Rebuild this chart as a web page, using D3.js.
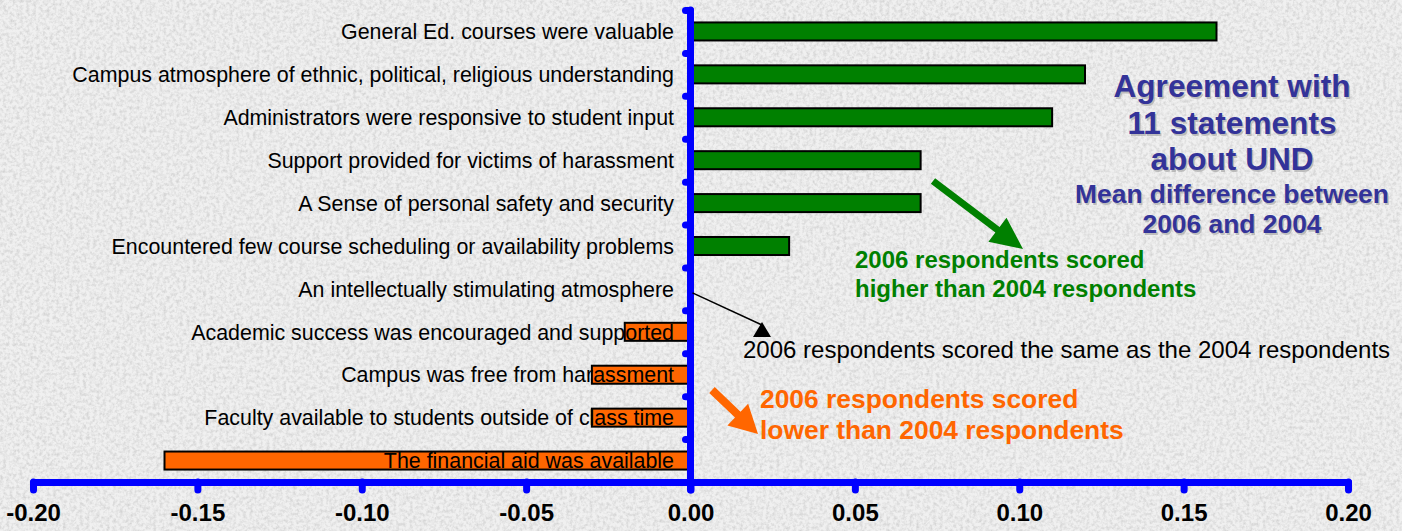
<!DOCTYPE html>
<html>
<head>
<meta charset="utf-8">
<script src="https://cdn.jsdelivr.net/npm/d3@7/dist/d3.min.js"></script>
<style>
  html, body { margin: 0; padding: 0; background: #e8e8e8; }
  svg { display: block; font-family: "Liberation Sans", Arial, sans-serif; }
</style>
</head>
<body>
<div id="chartid"></div>
<script>
/***** data *****/
var statements = [
  "General Ed. courses were valuable",
  "Campus atmosphere of ethnic, political, religious understanding",
  "Administrators were responsive to student input",
  "Support provided for victims of harassment",
  "A Sense of personal safety and security",
  "Encountered few course scheduling or availability problems",
  "An intellectually stimulating atmosphere",
  "Academic success was encouraged and supported",
  "Campus was free from harassment",
  "Faculty available to students outside of class time",
  "The financial aid was available"
];
var meanDiff = [0.16, 0.12, 0.11, 0.07, 0.07, 0.03, 0.00, -0.02, -0.03, -0.03, -0.16];
var xTicks = [-0.20, -0.15, -0.10, -0.05, 0.00, 0.05, 0.10, 0.15, 0.20];
var titleLines = ["Agreement with", "11 statements", "about UND"];
var subtitleLines = ["Mean difference between", "2006 and 2004"];
var higherLines = ["2006 respondents scored", "higher than 2004 respondents"];
var lowerLines = ["2006 respondents scored", "lower than 2004 respondents"];
var sameText = "2006 respondents scored the same as the 2004 respondents";

/***** chart parameters *****/
var width = 1402;
var height = 531;
var blue = "#0000ff";
var green = "#008000";
var orange = "#ff6600";
var navy = "#333399";

var svg = d3.select("div#chartid")
  .append("svg")
  .attr("width", width)
  .attr("height", height)
;

//mottled paper background
var defs = svg.append("defs");
var paper = defs.append("filter")
  .attr("id", "paper")
  .attr("x", 0).attr("y", 0).attr("width", "100%").attr("height", "100%");
paper.append("feTurbulence")
  .attr("type", "fractalNoise")
  .attr("baseFrequency", 0.3)
  .attr("numOctaves", 4)
  .attr("seed", 4)
  .attr("result", "noise");
paper.append("feColorMatrix")
  .attr("in", "noise")
  .attr("type", "matrix")
  .attr("values", "0 0 0 0 0.62  0 0 0 0 0.62  0 0 0 0 0.62  0 0 0 -2.2 1.35");

svg.append("rect").attr("width", width).attr("height", height).attr("fill", "#f0f0f0");
svg.append("rect").attr("width", width).attr("height", height).attr("filter", "url(#paper)").attr("opacity", 0.8);

//scales
var x = d3.scaleLinear()
  .domain([-0.2, 0.2])
  .range([33, 1348])
;
var y = d3.scaleBand()
  .domain(statements)
  .range([10, 482])
  .paddingInner(0.58)
  .paddingOuter(0.29)
;
//tick positions sit on the band edges
var yEdges = d3.scaleLinear()
  .domain([0, statements.length])
  .range([10, 482])
;

//bars
svg.append("g")
  .selectAll("rect")
  .data(meanDiff)
  .join("rect")
  .attr("x", function(d) { return x(Math.min(0, d)); })
  .attr("y", function(d, i) { return y(statements[i]); })
  .attr("width", function(d) { return Math.abs(x(d) - x(0)); })
  .attr("height", y.bandwidth())
  .attr("fill", function(d) { return d < 0 ? orange : green; })
  .attr("stroke", function(d) { return d === 0 ? "none" : "#000"; })
  .attr("stroke-width", 2)
;

//category labels (drawn on top of the bars)
svg.append("g")
  .selectAll("text")
  .data(statements)
  .join("text")
  .attr("x", 674)
  .attr("y", function(d) { return y(d) + y.bandwidth() / 2; })
  .attr("dy", "0.36em")
  .attr("text-anchor", "end")
  .attr("font-size", 21.4)
  .attr("fill", "#000")
  .text(function(d) { return d; })
;

//axes
var xAxis = d3.axisBottom(x)
  .tickValues(xTicks)
  .tickFormat(function(d) { return d3.format(".2f")(d).replace("\u2212", "-"); })
  .tickSizeInner(8)
  .tickSizeOuter(0)
  .tickPadding(14)
;
var yAxis = d3.axisLeft(yEdges)
  .tickValues(d3.range(0, statements.length + 1))
  .tickFormat("")
  .tickSizeInner(5)
  .tickSizeOuter(0)
;

var gx = svg.append("g")
  .attr("class", "x axis")
  .attr("transform", "translate(0,482)")
  .call(xAxis)
;
gx.select(".domain").attr("stroke", blue).attr("stroke-width", 7).attr("stroke-linecap", "round");
gx.selectAll(".tick line").attr("stroke", blue).attr("stroke-width", 7).attr("stroke-linecap", "round");
gx.selectAll(".tick text")
  .attr("fill", "#000")
  .attr("font-size", 24)
  .attr("font-weight", "bold")
  .attr("font-family", "Liberation Sans, Arial, sans-serif")
;

var gy = svg.append("g")
  .attr("class", "y axis")
  .attr("transform", "translate(" + x(0) + ",0)")
  .call(yAxis)
;
gy.select(".domain").attr("stroke", blue).attr("stroke-width", 7).attr("stroke-linecap", "round")
  .attr("d", "M0,10V490");
gy.selectAll(".tick line").attr("stroke", blue).attr("stroke-width", 7).attr("stroke-linecap", "round");

//block arrow helper
function blockArrow(x1, y1, x2, y2, shaftW, headL, headW, color) {
  var dx = x2 - x1, dy = y2 - y1;
  var len = Math.sqrt(dx * dx + dy * dy);
  var ux = dx / len, uy = dy / len;
  var nx = -uy, ny = ux;
  var bx = x2 - ux * headL, by = y2 - uy * headL;
  var pts = [
    [x1 + nx * shaftW / 2, y1 + ny * shaftW / 2],
    [bx + nx * shaftW / 2, by + ny * shaftW / 2],
    [bx + nx * headW / 2, by + ny * headW / 2],
    [x2, y2],
    [bx - nx * headW / 2, by - ny * headW / 2],
    [bx - nx * shaftW / 2, by - ny * shaftW / 2],
    [x1 - nx * shaftW / 2, y1 - ny * shaftW / 2]
  ];
  svg.append("polygon")
    .attr("points", pts.map(function(p) { return p.join(","); }).join(" "))
    .attr("fill", color);
}

//annotations
blockArrow(933, 181, 1023, 249, 7, 32, 30, green);
blockArrow(712, 390, 758, 434, 8, 28, 30, orange);

svg.append("line")
  .attr("x1", x(0) + 2)
  .attr("y1", y(statements[6]) + y.bandwidth() / 2 + 4)
  .attr("x2", 762)
  .attr("y2", 325)
  .attr("stroke", "#000")
  .attr("stroke-width", 1.5)
;
svg.append("polygon")
  .attr("points", "762,322 753,337 771,337")
  .attr("fill", "#000")
;
svg.append("text")
  .attr("x", 743)
  .attr("y", 358)
  .attr("font-size", 24)
  .attr("fill", "#000")
  .text(sameText)
;

svg.append("g")
  .selectAll("text")
  .data(higherLines)
  .join("text")
  .attr("x", 855)
  .attr("y", function(d, i) { return 268 + i * 29; })
  .attr("font-size", 24)
  .attr("font-weight", "bold")
  .attr("fill", green)
  .text(function(d) { return d; })
;

svg.append("g")
  .selectAll("text")
  .data(lowerLines)
  .join("text")
  .attr("x", 760)
  .attr("y", function(d, i) { return 408 + i * 31; })
  .attr("font-size", 26.4)
  .attr("font-weight", "bold")
  .attr("fill", orange)
  .text(function(d) { return d; })
;

//title block with a soft shadow
var titleY = [97, 134, 170];
var subY = [203, 233];
[{dx: 1.5, fill: "#a0a0a0", op: 0.6}, {dx: 0, fill: navy, op: 1}].forEach(function(s) {
  var g = svg.append("g").attr("transform", "translate(" + s.dx + "," + s.dx + ")").attr("opacity", s.op);
  g.selectAll("text.t")
    .data(titleLines)
    .join("text")
    .attr("class", "t")
    .attr("x", 1232)
    .attr("y", function(d, i) { return titleY[i]; })
    .attr("text-anchor", "middle")
    .attr("font-size", 31.6)
    .attr("font-weight", "bold")
    .attr("fill", s.fill)
    .text(function(d) { return d; });
  g.selectAll("text.s")
    .data(subtitleLines)
    .join("text")
    .attr("class", "s")
    .attr("x", 1232)
    .attr("y", function(d, i) { return subY[i]; })
    .attr("text-anchor", "middle")
    .attr("font-size", 26.4)
    .attr("font-weight", "bold")
    .attr("fill", s.fill)
    .text(function(d) { return d; });
});
</script>
</body>
</html>
